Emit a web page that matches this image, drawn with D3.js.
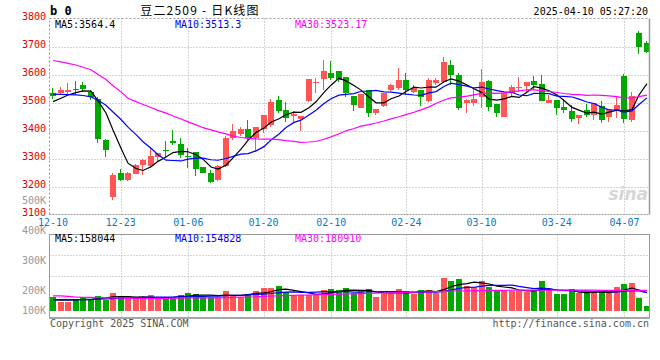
<!DOCTYPE html>
<html>
<head>
<meta charset="utf-8">
<script src="https://cdn.jsdelivr.net/npm/d3@7"></script>
<style>
  html, body { margin: 0; padding: 0; background: #fff; }
  svg { display: block; }
  text { font-family: "DejaVu Sans Mono", "Liberation Mono", monospace; font-size: 10px; }
</style>
</head>
<body>
<svg id="chart" width="660" height="360"></svg>
<script>
// daily bars, 豆二2509
const dates = [
  "12-10","12-11","12-12","12-13","12-16","12-17","12-18","12-19","12-20","12-23",
  "12-24","12-25","12-26","12-27","12-30","12-31","01-02","01-03","01-06","01-07",
  "01-08","01-09","01-10","01-13","01-14","01-15","01-16","01-17","01-20","01-21",
  "01-22","01-23","01-24","01-27","02-05","02-06","02-07","02-10","02-11","02-12",
  "02-13","02-14","02-17","02-18","02-19","02-20","02-21","02-24","02-25","02-26",
  "02-27","02-28","03-03","03-04","03-05","03-06","03-07","03-10","03-11","03-12",
  "03-13","03-14","03-17","03-18","03-19","03-20","03-21","03-24","03-25","03-26",
  "03-27","03-28","03-31","04-01","04-02","04-03","04-07","04-08","04-09","04-10"
];
const opens = [
  3534,3533,3537,3549,3563,3536,3513,3367,3161,3248,
  3224,3245,3277,3272,3307,3331,3364,3352,3308,3323,
  3268,3249,3222,3272,3373,3389,3407,3374,3404,3420,
  3510,3474,3452,3442,3504,3569,3585,3605,3611,3591,
  3525,3480,3543,3464,3486,3543,3551,3581,3539,3543,
  3506,3569,3572,3635,3599,3500,3500,3518,3578,3495,
  3450,3533,3551,3560,3578,3567,3500,3510,3483,3470,
  3444,3474,3456,3488,3448,3474,3593,3438,3748,3712
];
const highs = [
  3551,3555,3571,3577,3575,3545,3521,3369,3248,3263,
  3252,3281,3298,3340,3321,3361,3402,3373,3337,3325,
  3269,3260,3277,3380,3422,3414,3438,3414,3457,3512,
  3522,3501,3470,3453,3585,3587,3652,3650,3611,3591,
  3525,3530,3545,3477,3534,3566,3623,3607,3563,3543,
  3586,3586,3664,3652,3605,3512,3548,3619,3581,3495,
  3533,3563,3591,3575,3593,3599,3528,3510,3512,3492,
  3456,3495,3500,3504,3478,3518,3601,3536,3756,3720
];
const lows = [
  3512,3530,3530,3530,3539,3510,3357,3304,3152,3221,
  3221,3243,3242,3265,3289,3307,3349,3301,3265,3236,
  3248,3211,3221,3270,3365,3382,3366,3325,3390,3414,
  3462,3432,3432,3400,3501,3533,3543,3581,3575,3521,
  3471,3480,3450,3456,3484,3540,3545,3527,3535,3489,
  3503,3564,3569,3563,3474,3464,3488,3480,3470,3447,
  3450,3521,3536,3539,3545,3504,3498,3456,3464,3432,
  3424,3448,3438,3426,3432,3444,3426,3432,3674,3676
];
const closes = [
  3522,3545,3545,3546,3549,3519,3371,3329,3242,3224,
  3250,3277,3293,3310,3319,3327,3357,3313,3305,3264,
  3250,3217,3275,3373,3397,3407,3373,3413,3454,3501,
  3468,3446,3458,3452,3583,3573,3614,3587,3579,3533,
  3492,3530,3464,3476,3533,3563,3581,3545,3551,3519,
  3579,3579,3644,3599,3480,3510,3513,3575,3483,3462,
  3533,3557,3555,3575,3563,3506,3510,3482,3474,3441,
  3456,3456,3500,3438,3478,3492,3441,3524,3700,3679
];
const ma5 = [
  3503,3515,3527,3535,3541.4,3540.8,3506,3462.8,3402,3337,
  3283.2,3264.4,3257.2,3270.8,3289.8,3305.2,3321.2,3325.2,3324.2,3313.2,
  3297.8,3269.8,3262.2,3275.8,3302.4,3333.8,3365,3392.6,3408.8,3429.6,
  3441.8,3456.4,3465.4,3465,3481.4,3502.4,3536,3561.8,3587.2,3577.2,
  3561,3544.2,3519.6,3499,3499,3513.2,3523.4,3539.6,3554.6,3551.8,
  3555,3554.6,3574.4,3584,3576.2,3562.4,3549.2,3535.4,3512.2,3508.6,
  3513.2,3522,3518,3536.4,3556.6,3551.2,3541.8,3527.2,3507,3482.6,
  3472.6,3461.8,3465.4,3458.2,3465.6,3472.8,3469.8,3474.6,3527,3567.2
];
const ma10 = [
  3530,3529,3528,3527,3525,3520,3508,3490,3466,3439.2,
  3412,3385.2,3360,3336.4,3313.4,3294.2,3292.8,3291.2,3297.5,3301.5,
  3301.5,3295.5,3293.7,3300,3307.8,3315.8,3317.4,3327.4,3342.3,3366,
  3387.8,3410.7,3429,3436.9,3455.5,3472.1,3496.2,3513.6,3526.1,3529.3,
  3531.7,3540.1,3540.7,3543.1,3538.1,3537.1,3533.8,3529.6,3526.8,3525.4,
  3534.1,3539,3557,3569.3,3564,3558.7,3551.9,3554.9,3548.1,3542.4,
  3537.8,3535.6,3526.7,3524.3,3532.6,3532.2,3531.9,3522.6,3521.7,3519.6,
  3511.9,3501.8,3496.3,3482.6,3474.1,3472.7,3465.8,3470,3492.6,3516.4
];
const ma30 = [
  3650,3645,3640,3634,3626,3617,3600,3582,3560,3538,
  3515,3503,3493,3482,3472,3462,3452,3441,3431,3420,
  3410,3402,3395,3388,3380,3375,3372,3370,3369,3368.9,
  3367.1,3363.8,3360.9,3357.8,3358.9,3360.7,3368.8,3377.4,3388.6,3398.9,
  3407,3415.4,3421.1,3426.7,3433.8,3441.7,3449.1,3456.9,3465.1,3473.6,
  3484.5,3496.6,3508.9,3516.4,3519.2,3522.6,3527.3,3532.7,3533.7,3532.4,
  3534.5,3538.2,3541.5,3545.6,3544.9,3542.7,3539.2,3535.7,3532.2,3529.1,
  3527.9,3525.5,3526.7,3525.4,3523.6,3521.2,3516.5,3515.8,3520.8,3526.1
];
// volume, in K
const volumes = [
  164,140,140,157,164,157,172,152,185,170,
  157,157,157,175,157,165,165,175,185,180,
  165,165,164,197,177,165,180,197,207,207,
  214,190,172,177,177,177,201,204,201,207,
  185,193,203,165,180,180,203,195,182,200,
  200,185,240,230,237,213,210,230,210,200,
  200,195,195,190,200,230,200,180,180,203,
  185,185,185,195,185,210,220,223,160,120
];
const volMa5 = [
  150,149,149,150,153,151.6,158,160.4,166,167.2,
  167.2,164.2,165.2,163.2,160.6,162.2,163.8,167.4,169.4,174,
  174,174,171.8,174.2,173.6,173.6,176.6,183.2,185.2,191.2,
  201,203,198,192,186,178.6,180.8,187.2,192,198,
  199.6,198,197.8,190.6,185.2,184.2,186.2,184.6,188,192,
  196,192.4,201.4,211,218,221,226,224,220,213,
  210,207,200,196,196,202,203,200,198,198.6,
  189.6,186.6,187.6,190.6,187,192,199,206.6,199.6,186.6
];
const volMa10 = [
  152,152,152,152,152,153,154,155,157,160.1,
  159.4,161.1,162.8,164.6,163.9,164.7,164,166.3,166.3,167.3,
  168.1,168.9,169.6,171.8,173.8,173.8,175.3,177.5,179.7,182.4,
  187.3,189.8,190.6,188.6,188.6,189.8,191.9,192.6,192,192,
  189.1,189.4,192.5,191.3,191.6,191.9,192.1,191.2,189.3,188.6,
  190.1,189.3,193,199.5,205.2,208.5,209.2,212.7,215.5,215.5,
  215.5,216.5,212,208,204.3,206,205,200,197,197.3,
  195.8,194.8,193.8,194.3,192.8,190.8,192.8,197.1,195.1,186.8
];
const volMa30 = [
  171,171,168,165,163,163,162,161,160,159,
  158,158,158,158,158,158,159,159,160,160,
  160,161,161,162,163,164,165,166,168,170,
  171,172,173,174,175,176,177,178,179,180,
  181,182,183,184,185,186,187,188,189,190,
  191,192,193,194,195,196,197,197,198,198,
  198,199,199,199,199,199,199,199,199,199,
  199,199,199,198,198,198,198,198,198,198
];

const priceTicks = [3100, 3200, 3300, 3400, 3500, 3600, 3700, 3800];
const volTicks = [100, 200, 300, 400, 500];
const dateTicks = ["12-10","12-23","01-06","01-20","02-10","02-24","03-10","03-24","04-07"];
const priceLegend = ["MA5:3564.4", "MA10:3513.3", "MA30:3523.17"];
const volLegend = ["MA5:158044", "MA10:154828", "MA30:180910"];
const maColors = ["#000000", "#0000ff", "#ff00ff"];

const RED = "#ff5555", GREEN = "#00a800", GRID = "#aaaaaa", FRAME = "#999999";

const svg = d3.select("#chart");
const idx = d3.range(dates.length);

// scales
const x = d3.scaleBand().domain(dates).range([50, 650]).paddingInner(0.2).paddingOuter(0);
const bx = d => Math.round(x(d));
const cx = d => bx(d) + 3;
const y = d3.scaleLinear().domain([3100, 3800]).range([214.5, 18.5]);
const vy = d3.scaleLinear().domain([100, 200, 500]).range([310, 290, 200]);
const volBase = Math.round(vy(95));

const P = { left: 49.5, right: 649.5, top: 18.5, bottom: 214.5 };
const V = { left: 49.5, right: 649.5, top: 234.5, bottom: 318 };

// grid lines
const gridX = dateTicks.slice(1).map(d => cx(d) + 0.5);
const grid = svg.append("g").attr("stroke", GRID).attr("stroke-dasharray", "1,2");
grid.selectAll("line.ph").data(priceTicks.slice(1, -1)).join("line")
  .attr("x1", P.left).attr("x2", P.right)
  .attr("y1", d => Math.round(y(d)) + 0.5).attr("y2", d => Math.round(y(d)) + 0.5);
grid.selectAll("line.pv").data(gridX).join("line")
  .attr("x1", d => d).attr("x2", d => d).attr("y1", P.top).attr("y2", P.bottom);
grid.selectAll("line.vh").data([1, 2, 3]).join("line")
  .attr("x1", V.left).attr("x2", V.right)
  .attr("y1", k => Math.round(V.top + (V.bottom - V.top) * k / 4) + 0.5)
  .attr("y2", k => Math.round(V.top + (V.bottom - V.top) * k / 4) + 0.5);
grid.selectAll("line.vv").data(gridX).join("line")
  .attr("x1", d => d).attr("x2", d => d).attr("y1", V.top).attr("y2", V.bottom);

// watermark
svg.append("text").attr("x", 648).attr("y", 200).attr("text-anchor", "end")
  .style("font-family", "DejaVu Sans").style("font-size", "17px")
  .style("font-style", "italic").style("font-weight", "bold")
  .attr("fill", "#d6d6d6").text("sina");

// candles
const up = i => closes[i] >= opens[i];
const candles = svg.append("g");
candles.selectAll("rect.wick").data(idx).join("rect")
  .attr("x", i => bx(dates[i]) + 2).attr("width", 1)
  .attr("y", i => Math.round(y(highs[i])))
  .attr("height", i => Math.max(1, Math.round(y(lows[i])) - Math.round(y(highs[i]))))
  .attr("fill", i => up(i) ? RED : GREEN);
candles.selectAll("rect.body").data(idx).join("rect")
  .attr("x", i => bx(dates[i])).attr("width", 6)
  .attr("y", i => Math.round(y(Math.max(opens[i], closes[i]))))
  .attr("height", i => Math.max(1, Math.round(y(Math.min(opens[i], closes[i]))) - Math.round(y(Math.max(opens[i], closes[i])))))
  .attr("fill", i => up(i) ? RED : GREEN);

// price moving averages
const priceLine = d3.line().x((d, i) => cx(dates[i])).y(d => y(d));
[ma5, ma10, ma30].forEach((s, k) => {
  svg.append("path").datum(s).attr("d", priceLine)
    .attr("fill", "none").attr("stroke", maColors[k]).attr("stroke-width", 1.2);
});

// volume bars
svg.append("g").selectAll("rect").data(idx).join("rect")
  .attr("x", i => bx(dates[i])).attr("width", 6)
  .attr("y", i => Math.round(vy(volumes[i])))
  .attr("height", i => volBase - Math.round(vy(volumes[i])))
  .attr("fill", i => up(i) ? RED : GREEN);

const volLine = d3.line().x((d, i) => cx(dates[i])).y(d => vy(d));
[volMa5, volMa10, volMa30].forEach((s, k) => {
  svg.append("path").datum(s).attr("d", volLine)
    .attr("fill", "none").attr("stroke", maColors[k]).attr("stroke-width", 1.2);
});

// frames
const frame = svg.append("g").attr("fill", "none").attr("stroke", FRAME);
frame.append("path").attr("d", `M${P.left},${P.bottom}V${P.top}H${P.right}`).attr("stroke-dasharray", "2,2");
frame.append("line").attr("x1", P.left).attr("x2", P.right).attr("y1", P.bottom).attr("y2", P.bottom).attr("stroke-dasharray", "2,1");
frame.append("line").attr("x1", P.right).attr("x2", P.right).attr("y1", P.top).attr("y2", P.bottom).attr("stroke-width", 1.5);
frame.append("rect").attr("x", V.left).attr("y", V.top).attr("width", V.right - V.left).attr("height", V.bottom - V.top);
frame.append("line").attr("x1", V.left).attr("x2", V.right).attr("y1", V.bottom).attr("y2", V.bottom).attr("stroke-width", 1.5);

// axes
const yAxis = svg.append("g").attr("transform", "translate(50,0)")
  .call(d3.axisLeft(y).tickValues(priceTicks).tickSize(0).tickPadding(4).tickFormat(d3.format("d")));
yAxis.select(".domain").remove();
yAxis.selectAll("text").attr("dy", "0.05em").attr("fill", "#e00000")
  .style("font-family", "DejaVu Sans Mono").style("font-size", "10px");

const vAxis = svg.append("g").attr("transform", "translate(50,0)")
  .call(d3.axisLeft(vy).tickValues(volTicks).tickSize(0).tickPadding(4).tickFormat(d => d + "K"));
vAxis.select(".domain").remove();
vAxis.selectAll("text").attr("dy", "0.32em").attr("fill", "#999999")
  .style("font-family", "DejaVu Sans Mono").style("font-size", "10px");

const xAxis = svg.append("g").attr("transform", `translate(0,${P.bottom})`)
  .call(d3.axisBottom(x).tickValues(dateTicks).tickSize(0).tickPadding(4));
xAxis.select(".domain").remove();
xAxis.selectAll("text").attr("fill", "#0a78c8")
  .style("font-family", "DejaVu Sans Mono").style("font-size", "10px");

// legends
const legendX = [55, 175, 295];
svg.append("g").selectAll("text").data(priceLegend).join("text")
  .attr("x", (d, k) => legendX[k]).attr("y", 28).attr("fill", (d, k) => maColors[k]).text(d => d);
svg.append("g").selectAll("text").data(volLegend).join("text")
  .attr("x", (d, k) => legendX[k]).attr("y", 242).attr("fill", (d, k) => maColors[k]).text(d => d);

// titles
svg.append("text").attr("x", 50).attr("y", 15)
  .style("font-size", "12px").style("font-weight", "bold").text("b 0");
svg.append("text").attr("x", 200).attr("y", 15).attr("text-anchor", "middle")
  .style("font-family", "Noto Sans CJK SC").style("font-size", "12px")
  .style("letter-spacing", "1.2px")
  .text("豆二2509 - 日K线图");
svg.append("text").attr("x", 648).attr("y", 15).attr("text-anchor", "end")
  .text("2025-04-10 05:27:20");
svg.append("text").attr("x", 50).attr("y", 327).attr("fill", "#555").text("Copyright 2025 SINA.COM");
svg.append("text").attr("x", 649).attr("y", 327).attr("text-anchor", "end").attr("fill", "#555")
  .text("http://finance.sina.com.cn");
</script>
</body>
</html>
